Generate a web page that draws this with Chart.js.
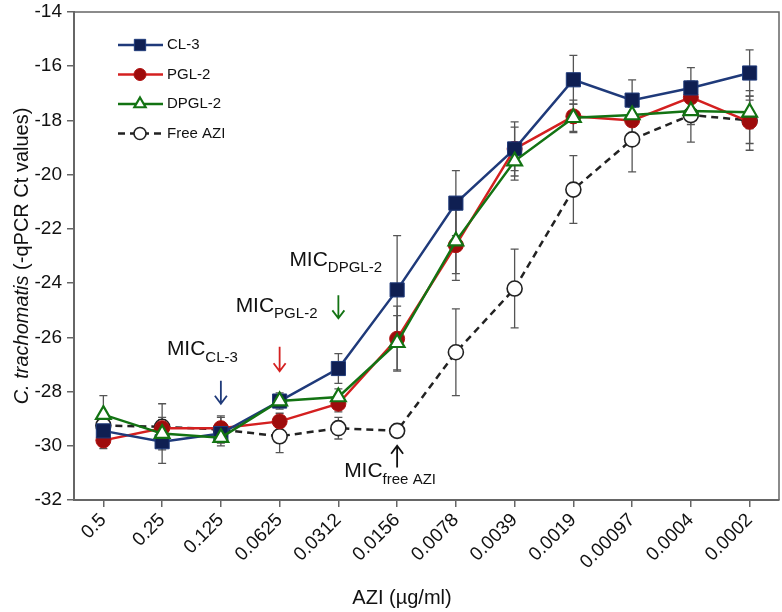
<!DOCTYPE html>
<html>
<head>
<meta charset="utf-8">
<script src="https://cdn.jsdelivr.net/npm/chart.js@4.4.1/dist/chart.umd.min.js"></script>
<style>
  html, body { margin: 0; padding: 0; background: #fff; }
  #wrap { width: 782px; height: 612px; position: relative; }
</style>
</head>
<body>
<div id="wrap"><canvas id="chart" width="782" height="612"></canvas></div>
<script>
// AZI concentrations (µg/ml), high to low
const categories = ['0.5', '0.25', '0.125', '0.0625', '0.0312', '0.0156', '0.0078', '0.0039', '0.0019', '0.00097', '0.0004', '0.0002'];

// -qPCR Ct values
const cl3      = [-29.45, -29.85, -29.55, -28.35, -27.15, -24.25, -21.05, -19.05, -16.5, -17.25, -16.8, -16.25];
const pgl2     = [-29.8, -29.35, -29.35, -29.1, -28.45, -26.05, -22.6, -19.05, -17.85, -18.0, -17.15, -18.05];
const dpgl2    = [-28.85, -29.55, -29.7, -28.35, -28.2, -26.2, -22.45, -19.5, -17.9, -17.8, -17.65, -17.7];
const freeAzi  = [-29.25, -29.3, -29.4, -29.65, -29.35, -29.45, -26.55, -24.2, -20.55, -18.7, -17.8, -18.0];

// error bar half-lengths
const cl3Err     = [0.3, 0.8, 0.3, 0.2, 0.55, 2.0, 1.2, 1.0, 0.9, 0.75, 0.75, 0.85];
const pgl2Err    = [0.3, 0.4, 0.4, 0.3, 0.3, 1.2, 1.3, 0.8, 0.6, 0.5, 0.6, 0.8];
const dpgl2Err   = [0.7, 0.3, 0.3, 0.3, 0.3, 1.0, 1.2, 0.7, 0.5, 0.4, 0.5, 0.6];
const freeAziErr = [0.3, 0.85, 0.5, 0.6, 0.4, 0.2, 1.6, 1.45, 1.25, 1.2, 1.0, 1.1];

const yTicks = [-32, -30, -28, -26, -24, -22, -20, -18, -16, -14];

// MIC markers: subscript, category index of arrow, arrow tip / tail values, label row
const micNames = ['CL-3', 'PGL-2', 'DPGL-2', 'free AZI'];
const micCats  = [2, 3, 4, 5];
const micTip   = [-28.45, -27.25, -25.3, -30.0];
const micTail  = [-27.6, -26.35, -24.45, -30.8];
const micTextY = [-26.45, -24.85, -23.15, -30.95];
const micTextDx = [-54, -44, -49, -53];
const micColors = ['#1f3a7a', '#d42020', '#137313', '#111'];

const FONT = '"Liberation Sans", Arial, Helvetica, sans-serif';

const errorBars = {
  id: 'errorBars',
  beforeDatasetsDraw(chart) {
    const { ctx, scales: { x, y } } = chart;
    ctx.save();
    ctx.strokeStyle = '#555';
    ctx.lineWidth = 1.3;
    chart.data.datasets.forEach(ds => {
      ds.errors.forEach((e, i) => {
        const px = x.getPixelForValue(i);
        const top = y.getPixelForValue(ds.data[i] + e);
        const bot = y.getPixelForValue(ds.data[i] - e);
        ctx.beginPath();
        ctx.moveTo(px, top); ctx.lineTo(px, bot);
        ctx.moveTo(px - 4, top); ctx.lineTo(px + 4, top);
        ctx.moveTo(px - 4, bot); ctx.lineTo(px + 4, bot);
        ctx.stroke();
      });
    });
    ctx.restore();
  }
};

const extras = {
  id: 'extras',
  afterDraw(chart) {
    const { ctx, chartArea: a, scales: { x, y } } = chart;
    ctx.save();

    // frame top + right
    ctx.strokeStyle = '#666';
    ctx.lineWidth = 1.5;
    ctx.beginPath();
    ctx.moveTo(a.left, a.top); ctx.lineTo(a.right, a.top); ctx.lineTo(a.right, a.bottom);
    ctx.stroke();

    // legend
    chart.data.datasets.forEach((ds, i) => {
      const ly = 45 + i * 29.5;
      ctx.strokeStyle = ds.borderColor;
      ctx.lineWidth = 2.5;
      ctx.setLineDash(ds.borderDash || []);
      ctx.beginPath();
      ctx.moveTo(118, ly); ctx.lineTo(163, ly);
      ctx.stroke();
      ctx.setLineDash([]);
      ctx.fillStyle = ds.pointBackgroundColor;
      ctx.strokeStyle = ds.pointBorderColor;
      ctx.lineWidth = ds.pointBorderWidth;
      Chart.helpers.drawPoint(ctx, {
        pointStyle: ds.pointStyle,
        radius: ds.legendRadius,
        rotation: 0,
        borderWidth: ds.pointBorderWidth
      }, 140, ly);
      ctx.fillStyle = '#111';
      ctx.font = '15px ' + FONT;
      ctx.textBaseline = 'middle';
      ctx.textAlign = 'left';
      ctx.fillText(ds.label, 167, ly);
    });

    // MIC arrows and labels
    micNames.forEach((name, i) => {
      const px = x.getPixelForValue(micCats[i]);
      const tip = y.getPixelForValue(micTip[i]);
      const tail = y.getPixelForValue(micTail[i]);
      const dir = tip > tail ? 1 : -1;
      ctx.strokeStyle = micColors[i];
      ctx.lineWidth = 1.8;
      ctx.beginPath();
      ctx.moveTo(px, tail); ctx.lineTo(px, tip);
      ctx.moveTo(px - 6, tip - dir * 8); ctx.lineTo(px, tip); ctx.lineTo(px + 6, tip - dir * 8);
      ctx.stroke();

      const ty = y.getPixelForValue(micTextY[i]);
      const startX = px + micTextDx[i];
      ctx.fillStyle = '#111';
      ctx.textBaseline = 'middle';
      ctx.textAlign = 'left';
      ctx.font = '21px ' + FONT;
      const w1 = ctx.measureText('MIC').width;
      ctx.fillText('MIC', startX, ty);
      ctx.font = '15px ' + FONT;
      ctx.fillText(name, startX + w1, ty + 8);
    });

    // axis titles
    ctx.fillStyle = '#111';
    ctx.textBaseline = 'middle';
    ctx.font = '20px ' + FONT;
    ctx.textAlign = 'center';
    ctx.fillText('AZI (µg/ml)', 402, 598);

    ctx.translate(22, (a.top + a.bottom) / 2);
    ctx.rotate(-Math.PI / 2);
    const p1 = 'C. trachomatis';
    const p2 = ' (-qPCR Ct values)';
    ctx.font = 'italic 20px ' + FONT;
    const w1 = ctx.measureText(p1).width;
    ctx.font = '20px ' + FONT;
    const w2 = ctx.measureText(p2).width;
    ctx.textAlign = 'left';
    ctx.font = 'italic 20px ' + FONT;
    ctx.fillText(p1, -(w1 + w2) / 2, 0);
    ctx.font = '20px ' + FONT;
    ctx.fillText(p2, -(w1 + w2) / 2 + w1, 0);

    ctx.restore();
  }
};

new Chart(document.getElementById('chart'), {
  type: 'line',
  data: {
    labels: categories,
    datasets: [
      {
        label: 'CL-3', data: cl3, errors: cl3Err, order: 1,
        borderColor: '#1f3a7a', borderWidth: 2.5,
        pointStyle: 'rect', pointRadius: 10, legendRadius: 8,
        pointBackgroundColor: '#0f1f52', pointBorderColor: '#1f3a7a', pointBorderWidth: 1
      },
      {
        label: 'PGL-2', data: pgl2, errors: pgl2Err, order: 2,
        borderColor: '#d42020', borderWidth: 2.5,
        pointStyle: 'circle', pointRadius: 7.5, legendRadius: 6,
        pointBackgroundColor: '#9e0c0c', pointBorderColor: '#b01010', pointBorderWidth: 1
      },
      {
        label: 'DPGL-2', data: dpgl2, errors: dpgl2Err, order: 0,
        borderColor: '#137313', borderWidth: 2.5,
        pointStyle: 'triangle', pointRadius: 8.5, legendRadius: 6.5,
        pointBackgroundColor: '#fff', pointBorderColor: '#137313', pointBorderWidth: 2.2
      },
      {
        label: 'Free AZI', data: freeAzi, errors: freeAziErr, order: 3,
        borderColor: '#222', borderWidth: 2.5, borderDash: [7, 5],
        pointStyle: 'circle', pointRadius: 7.5, legendRadius: 6,
        pointBackgroundColor: '#fff', pointBorderColor: '#222', pointBorderWidth: 1.6
      }
    ]
  },
  options: {
    responsive: false,
    animation: false,
    devicePixelRatio: 1,
    layout: { autoPadding: false, padding: { left: 0, top: 12, right: 3, bottom: 0 } },
    plugins: {
      legend: { display: false },
      tooltip: { enabled: false }
    },
    scales: {
      x: {
        offset: true,
        afterFit(scale) { scale.height = 112; scale.paddingRight = 0; scale.paddingLeft = 0; },
        grid: { display: true, drawOnChartArea: false, drawTicks: true, tickLength: 7, color: '#666', lineWidth: 1.5, offset: false },
        border: { color: '#666', width: 2 },
        ticks: { color: '#111', font: { family: FONT, size: 19 }, maxRotation: 45, minRotation: 45, padding: 2 }
      },
      y: {
        min: -32, max: -14,
        afterFit(scale) { scale.width = 74; scale.paddingTop = 0; scale.paddingBottom = 0; },
        afterBuildTicks(scale) { scale.ticks = yTicks.map(v => ({ value: v })); },
        grid: { display: true, drawOnChartArea: false, drawTicks: true, tickLength: 7, color: '#666', lineWidth: 1.5 },
        border: { color: '#666', width: 2 },
        ticks: { color: '#111', font: { family: FONT, size: 19 }, padding: 5 }
      }
    }
  },
  plugins: [errorBars, extras]
});
</script>
</body>
</html>
